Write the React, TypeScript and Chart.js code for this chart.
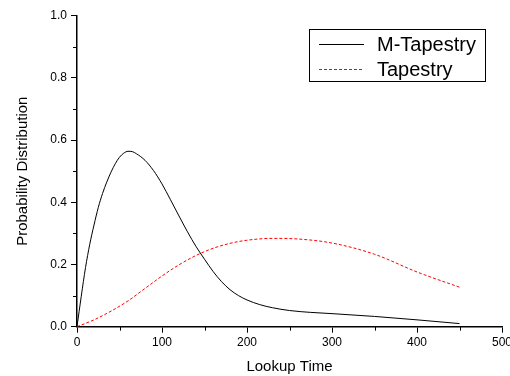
import React, { useEffect, useRef } from "react";
import { Chart, registerables } from "chart.js";

Chart.register(...registerables);

const mTapestryX = [0, 5, 10, 15, 20, 25, 30, 35, 40, 45, 50, 55, 60, 65, 70, 80, 90, 100, 110, 120, 130, 140, 150, 160, 170, 180, 190, 200, 215, 230, 250, 275, 300, 350, 400, 450];
const mTapestryY = [0, 0.098, 0.19, 0.265, 0.327, 0.383, 0.428, 0.465, 0.497, 0.524, 0.545, 0.558, 0.564, 0.563, 0.556, 0.535, 0.502, 0.459, 0.408, 0.356, 0.305, 0.258, 0.217, 0.178, 0.145, 0.119, 0.1, 0.086, 0.071, 0.061, 0.052, 0.046, 0.042, 0.033, 0.022, 0.01];

const tapestryX = [0, 20, 40, 60, 80, 100, 120, 140, 160, 180, 200, 230, 260, 300, 350, 400, 450];
const tapestryY = [0, 0.022, 0.05, 0.083, 0.123, 0.163, 0.199, 0.229, 0.252, 0.268, 0.278, 0.284, 0.282, 0.269, 0.233, 0.176, 0.127];

const seriesNames = ["M-Tapestry", "Tapestry"];
const xMinorTicks = [50, 150, 250, 350, 450];
const yMinorTicks = [0.1, 0.3, 0.5, 0.7, 0.9];

const FONT = "'Liberation Sans', Arial, Helvetica, sans-serif";

const minorTickPlugin = {
  id: "minorTicks",
  afterDraw(chart: any) {
    const ctx = chart.ctx;
    const xs = chart.scales.x;
    const ys = chart.scales.y;
    const area = chart.chartArea;
    ctx.save();
    ctx.strokeStyle = "#000";
    ctx.lineWidth = 1;
    ctx.beginPath();
    xMinorTicks.forEach((v) => {
      const px = Math.round(xs.getPixelForValue(v)) + 0.5;
      ctx.moveTo(px, area.bottom);
      ctx.lineTo(px, area.bottom + 4);
    });
    yMinorTicks.forEach((v) => {
      const py = Math.round(ys.getPixelForValue(v)) + 0.5;
      ctx.moveTo(area.left - 4, py);
      ctx.lineTo(area.left, py);
    });
    ctx.stroke();
    ctx.restore();
  },
};

const boxLegendPlugin = {
  id: "boxLegend",
  afterDraw(chart: any) {
    const ctx = chart.ctx;
    const area = chart.chartArea;
    const boxW = 176;
    const boxH = 52;
    const bx = area.right - 17 - boxW;
    const by = area.top + 13.5;
    ctx.save();
    ctx.fillStyle = "#fff";
    ctx.fillRect(bx, by, boxW, boxH);
    ctx.strokeStyle = "#000";
    ctx.lineWidth = 1;
    ctx.strokeRect(Math.round(bx) + 0.5, Math.round(by) + 0.5, boxW, boxH);
    ctx.font = "20px " + FONT;
    ctx.textBaseline = "middle";
    ctx.textAlign = "left";
    chart.data.datasets.forEach((ds: any, i: number) => {
      const y = by + 15 + i * 25;
      ctx.beginPath();
      ctx.strokeStyle = ds.borderColor;
      ctx.lineWidth = ds.borderWidth;
      ctx.setLineDash(ds.borderDash || []);
      ctx.moveTo(bx + 10, Math.round(y) + 0.5);
      ctx.lineTo(bx + 55, Math.round(y) + 0.5);
      ctx.stroke();
      ctx.setLineDash([]);
      ctx.fillStyle = "#000";
      ctx.fillText(ds.label, bx + 68, y + 1);
    });
    ctx.restore();
  },
};

export default function App() {
  const ref = useRef<HTMLCanvasElement>(null);
  useEffect(() => {
    document.body.style.margin = "0";
    const canvas = ref.current;
    if (!canvas) return;
    const chart = new Chart(canvas, {
      type: "line",
      data: {
        datasets: [
          {
            label: seriesNames[0],
            data: mTapestryX.map((x, i) => ({ x, y: mTapestryY[i] })),
            borderColor: "#000000",
            borderWidth: 1,
            pointRadius: 0,
            cubicInterpolationMode: "monotone",
            fill: false,
          },
          {
            label: seriesNames[1],
            data: tapestryX.map((x, i) => ({ x, y: tapestryY[i] })),
            borderColor: "#ff0000",
            borderWidth: 1,
            borderDash: [3, 2],
            pointRadius: 0,
            cubicInterpolationMode: "monotone",
            fill: false,
          },
        ],
      },
      options: {
        animation: false,
        responsive: false,
        maintainAspectRatio: false,
        layout: { padding: { top: 15.7, right: 8, bottom: 0, left: 0 } },
        plugins: { legend: { display: false }, tooltip: { enabled: false } },
        scales: {
          x: {
            type: "linear",
            min: 0,
            max: 500,
            ticks: {
              stepSize: 100,
              color: "#000",
              padding: 3,
              maxRotation: 0,
              font: { family: FONT, size: 12 },
            },
            grid: {
              drawOnChartArea: false,
              drawTicks: true,
              tickLength: 6,
              tickColor: "#000",
              tickWidth: 1,
            },
            border: { display: true, color: "#000", width: 1.5 },
            title: {
              display: true,
              text: "Lookup Time",
              color: "#000",
              font: { family: FONT, size: 15 },
              padding: { top: 0, bottom: 0 },
            },
            afterFit(scale: any) {
              scale.height = 49.3;
              scale.paddingLeft = 0;
              scale.paddingRight = 0;
            },
          },
          y: {
            type: "linear",
            min: 0,
            max: 1,
            ticks: {
              stepSize: 0.2,
              color: "#000",
              padding: 4,
              font: { family: FONT, size: 12 },
              callback: (v: any) => Number(v).toFixed(1),
            },
            grid: {
              drawOnChartArea: false,
              drawTicks: true,
              tickLength: 6,
              tickColor: "#000",
              tickWidth: 1,
            },
            border: { display: true, color: "#000", width: 1.5 },
            title: {
              display: true,
              text: "Probability Distribution",
              color: "#000",
              font: { family: FONT, size: 15 },
              padding: { top: 13.5, bottom: 0 },
            },
            afterFit(scale: any) {
              scale.width = 77;
              scale.paddingTop = 0;
              scale.paddingBottom = 0;
            },
          },
        },
      },
      plugins: [minorTickPlugin, boxLegendPlugin],
    } as any);
    return () => chart.destroy();
  }, []);
  return (
    <div style={{ width: 510, height: 376, background: "#fff" }}>
      <canvas ref={ref} width={510} height={376} style={{ width: 510, height: 376, display: "block" }} />
    </div>
  );
}
